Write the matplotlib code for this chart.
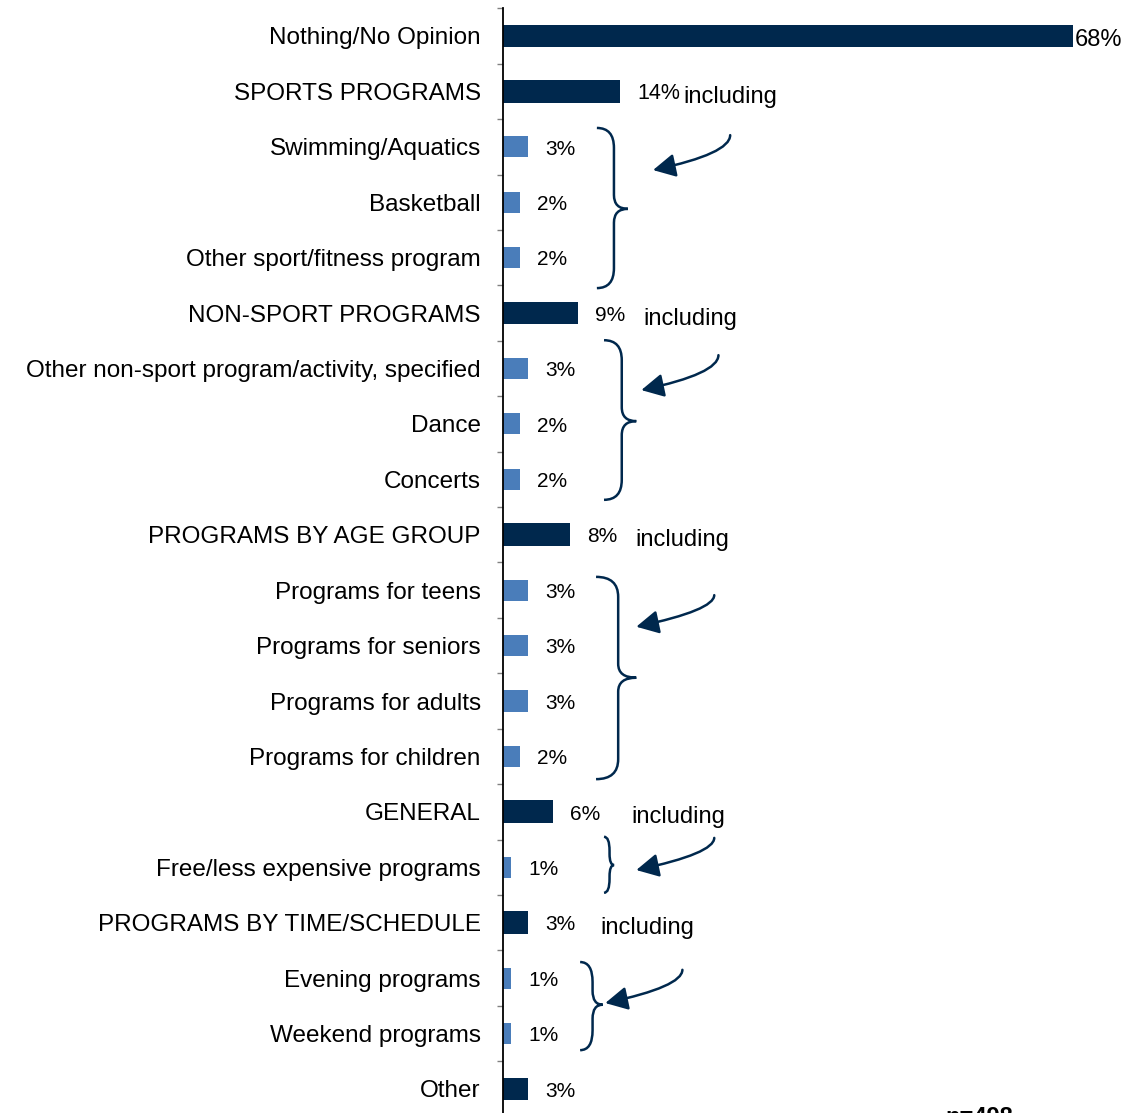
import numpy as np
import matplotlib
matplotlib.use("Agg")
import matplotlib.pyplot as plt
from matplotlib.path import Path
from matplotlib.patches import PathPatch

plt.rcParams['font.family'] = ['Liberation Sans', 'DejaVu Sans']

# data
categories = [
    "Nothing/No Opinion", "SPORTS PROGRAMS", "Swimming/Aquatics", "Basketball",
    "Other sport/fitness program", "NON-SPORT PROGRAMS",
    "Other non-sport program/activity, specified", "Dance", "Concerts",
    "PROGRAMS BY AGE GROUP", "Programs for teens", "Programs for seniors",
    "Programs for adults", "Programs for children", "GENERAL",
    "Free/less expensive programs", "PROGRAMS BY TIME/SCHEDULE",
    "Evening programs", "Weekend programs", "Other",
]
values = [68, 14, 3, 2, 2, 9, 3, 2, 2, 8, 3, 3, 3, 2, 6, 1, 3, 1, 1, 3]
is_sub = [0, 0, 1, 1, 1, 0, 1, 1, 1, 0, 1, 1, 1, 1, 0, 1, 0, 1, 1, 0]
# header row -> rows it includes
groups = [(1, [2, 3, 4]), (5, [6, 7, 8]), (9, [10, 11, 12, 13]), (14, [15]), (16, [17, 18])]
sample_note = "n=498"

DARK = "#00284D"
LIGHT = "#4A7DBA"

# layout for the braces / arrows / "including" labels (x in %, y in rows)
brace_layout = [  # top, bottom, x left, x tip, y tip
    (1.66, 4.55, 11.2, 14.9, 3.12),
    (5.49, 8.37, 12.05, 15.9, 6.95),
    (9.76, 13.41, 11.1, 15.9, 11.58),
    (14.45, 15.46, 12.05, 13.25, 14.96),
    (16.71, 18.30, 9.2, 11.9, 17.48),
]
arrow_layout = [  # start x, start y, end x, end y
    (27.1, 1.79, 17.9, 2.42),
    (25.7, 5.76, 16.5, 6.39),
    (25.2, 10.09, 15.9, 10.66),
    (25.2, 14.47, 15.9, 15.05),
    (21.4, 16.85, 12.2, 17.45),
]
including_x = [21.5, 16.8, 15.75, 15.3, 11.6]


def draw_brace(ax, top, bot, x0, x1, ymid):
    xm = x0 + (x1 - x0) * 0.55
    r = min(0.36, (bot - top) / 4)
    rm = min(0.25, (bot - top) / 5)
    verts = [(x0, top), (xm, top), (xm, top + r),
             (xm, ymid - rm), (xm, ymid), (x1, ymid),
             (xm, ymid), (xm, ymid + rm),
             (xm, bot - r), (xm, bot), (x0, bot)]
    codes = [Path.MOVETO, Path.CURVE3, Path.CURVE3,
             Path.LINETO, Path.CURVE3, Path.CURVE3,
             Path.CURVE3, Path.CURVE3,
             Path.LINETO, Path.CURVE3, Path.CURVE3]
    ax.add_patch(PathPatch(Path(verts, codes), fill=False, ec=DARK, lw=1.8,
                           clip_on=False))


fig = plt.figure(figsize=(11.4, 11.13), dpi=100)
ax = fig.add_axes([503 / 1140, -0.0033, 0.5515, 0.9959])

y = np.arange(len(categories))
colors = [LIGHT if s else DARK for s in is_sub]
heights = [0.38 if s else 0.41 for s in is_sub]
ax.barh(y, values, height=heights, color=colors, edgecolor='none')

ax.set_xlim(0, 75)
ax.set_ylim(len(categories) - 0.5, -0.5)

ax.set_yticks(y)
ax.set_yticklabels(categories, fontsize=17.5)
ax.set_yticks(np.arange(len(categories) + 1) - 0.5, minor=True)
ax.tick_params(axis='y', which='major', length=0, pad=16)
ax.tick_params(axis='y', which='minor', length=4.5, width=1, color='#808080')
ax.set_xticks([])
for s in ['top', 'right', 'bottom']:
    ax.spines[s].set_visible(False)
ax.spines['left'].set_linewidth(1.3)

# value labels
for i, v in enumerate(values):
    if v == max(values):
        ax.text(v + 0.25, i + 0.07, f"{v}%", va='center', ha='left', fontsize=17,
                family=['Liberation Sans Narrow', 'Liberation Sans'])
    elif i == 1:
        ax.text(v + 2.0, i + 0.03, f"{v}%", va='center', ha='left', fontsize=15.5,
                family=['Liberation Sans Narrow', 'Liberation Sans'])
    else:
        ax.text(v + 2.0, i + 0.04, f"{v}%", va='center', ha='left', fontsize=15)

# including / braces / arrows
for k, (head, rows) in enumerate(groups):
    ax.text(including_x[k], head + 0.1, "including", va='center', ha='left',
            fontsize=17)
    top, bot, x0, x1, ym = brace_layout[k]
    draw_brace(ax, top, bot, x0, x1, ym)
    sx, sy, ex, ey = arrow_layout[k]
    ax.annotate("", xy=(ex, ey), xytext=(sx, sy),
                arrowprops=dict(arrowstyle='-|>,head_length=0.8,head_width=0.42',
                                connectionstyle='angle3,angleA=90,angleB=12',
                                color=DARK, lw=1.8, mutation_scale=17,
                                shrinkA=0, shrinkB=0),
                annotation_clip=False)

fig.text(945 / 1140, 1 - 1106 / 1113, sample_note, ha='left', va='top',
         fontsize=17, fontweight='bold')

fig.savefig("out.png", dpi=100)
